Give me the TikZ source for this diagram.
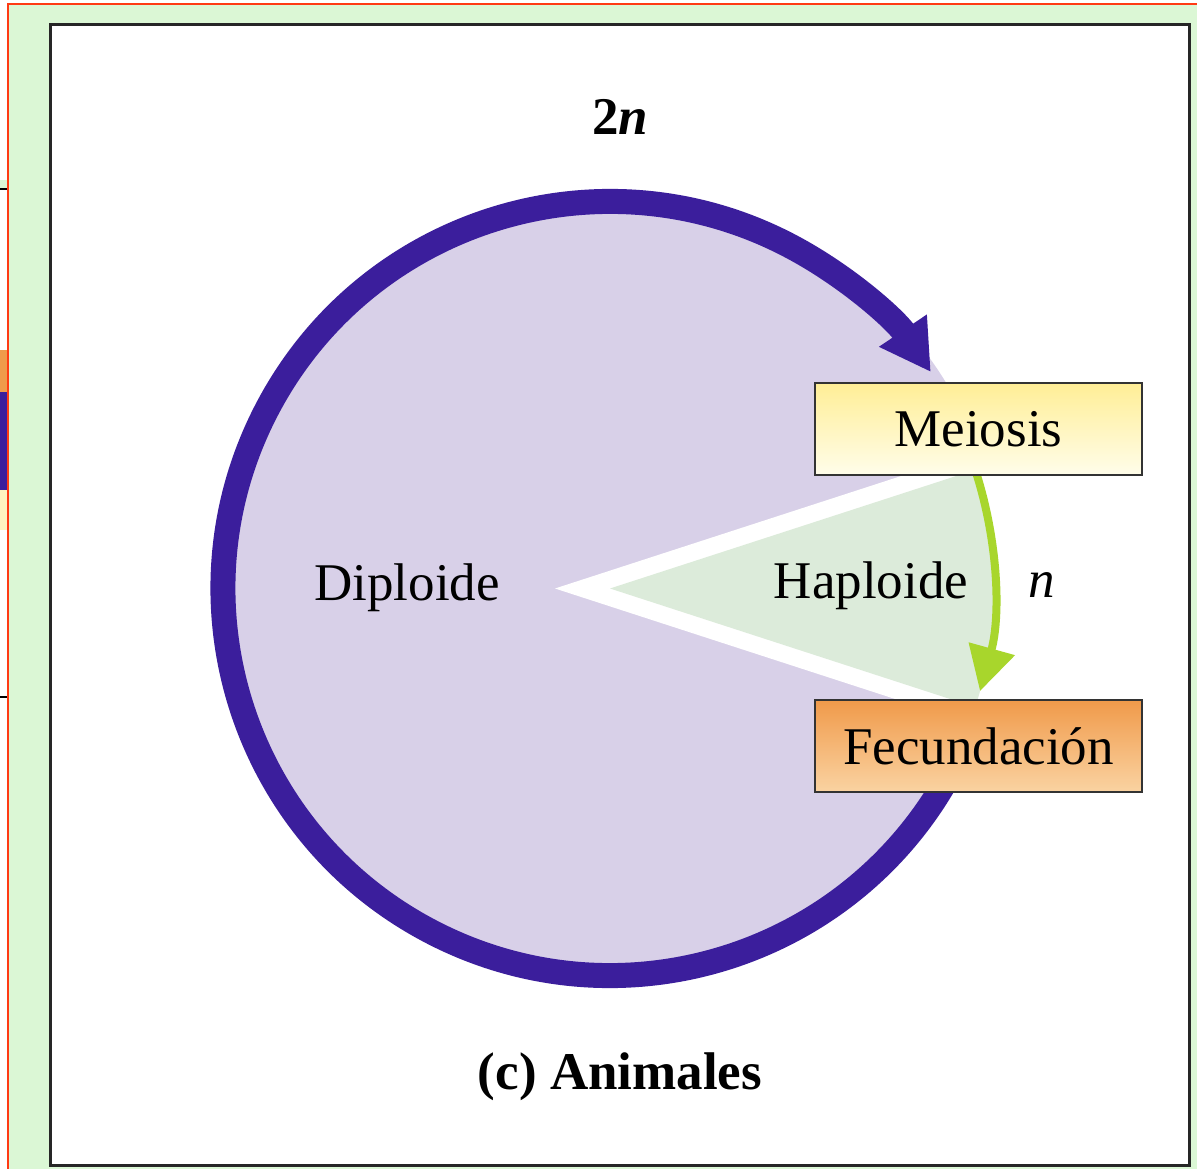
\documentclass[tikz,border=0pt]{standalone}
\usepackage{fontspec}
\setmainfont{Liberation Serif}
\usepackage{tikz}
\usetikzlibrary{
  arrows.meta,
  calc
}
\definecolor{lcRing}{HTML}{3B1E9C}
\definecolor{lcDip}{HTML}{D8D0E8}
\definecolor{lcHap}{HTML}{DCEBDA}
\definecolor{lcArrow}{HTML}{A8D62C}
\definecolor{lcMeiTop}{HTML}{FFEE96}
\definecolor{lcMeiBot}{HTML}{FFFDEA}
\definecolor{lcFecTop}{HTML}{F09A4A}
\definecolor{lcFecBot}{HTML}{FAD3A2}
\definecolor{lcPage}{HTML}{DBF7D5}
\definecolor{lcEdge}{HTML}{FF3A14}
\tikzset{
  lcfont/.style={font=\fontsize{26.5pt}{30pt}\selectfont},
  lctext/.style={lcfont, inner sep=0pt},
  phase/.style={
    draw=black!80, line width=1.3pt, lcfont,
    minimum width=163.5pt, minimum height=46pt, inner sep=0pt
  },
  meibox/.style={phase, top color=lcMeiTop, bottom color=lcMeiBot},
  fecbox/.style={phase, top color=lcFecTop, bottom color=lcFecBot},
  ring/.style={draw=lcRing, line width=12.5pt, -{Triangle[length=25pt, width=27pt]}},
  haparrow/.style={draw=lcArrow, line width=4pt, -{Triangle[length=22pt, width=23pt]}},
  frame/.style={draw=black!85, line width=1.5pt, fill=white}
}

\begin{document}
\begin{tikzpicture}[x=0.5pt, y=0.5pt]
  \useasboundingbox (0,0) rectangle (1197,1168);
  \clip (0,0) rectangle (1197,1168);
  % page and the panel next to this one
  \fill[white] (0,0) rectangle (1197,1168);
  \fill[lcPage] (0,980) rectangle (8,988);
  \draw[black, line width=0.8pt] (0,979) -- (8,979);
  \draw[black, line width=0.8pt] (0,471) -- (8,471);
  \fill[lcFecTop] (0,776) rectangle (8,818);
  \fill[lcRing] (0,678) rectangle (8,776);
  \fill[lcMeiTop!60] (0,638) rectangle (8,678);
  \fill[lcPage] (8,-5) rectangle (1205,1164);
  \draw[lcEdge, line width=1pt] (8,-5) -- (8,1164) -- (1205,1164);
  \draw[frame] (50,3) rectangle (1189,1143);

  % diploid disc with the haploid wedge
  \coordinate (ctr) at (610,579.5);
  \coordinate (gapTip) at (555,579.5);
  \fill[lcDip] (ctr) circle[radius=394];
  \fill[white] (gapTip) -- ($(gapTip)+(18:600)$) -- ($(gapTip)+(-18:600)$) -- cycle;
  \fill[lcHap] (ctr) -- ++(18:384) arc[start angle=18, end angle=-18, radius=384] -- cycle;

  \coordinate (fecIn) at ($(ctr)+(-28:387)$);
  \coordinate (meiOut) at ($(ctr)+(20:384)$);
  \draw[ring] (fecIn) arc[start angle=-28, end angle=-326, radius=387];
  \draw[haparrow] (meiOut) arc[start angle=20, end angle=-15.5, radius=384];

  \node[meibox] (meiosis) at (978.5,739) {Meiosis};
  \node[fecbox] (fecund) at (978.5,422) {Fecundación};

  \node[lctext] (twon) at (620,1051) {\textbf{2\textit{n}}};
  \node[lctext] (diploid) at (407,580) {Diploide};
  \node[lctext] (haploid) at (871,582) {Haploide};
  \node[lctext] (nlabel) at (1042,583) {\textit{n}};
  \node[lctext] (caption) at (620,91) {\textbf{(c) Animales}};
\end{tikzpicture}
\end{document}
